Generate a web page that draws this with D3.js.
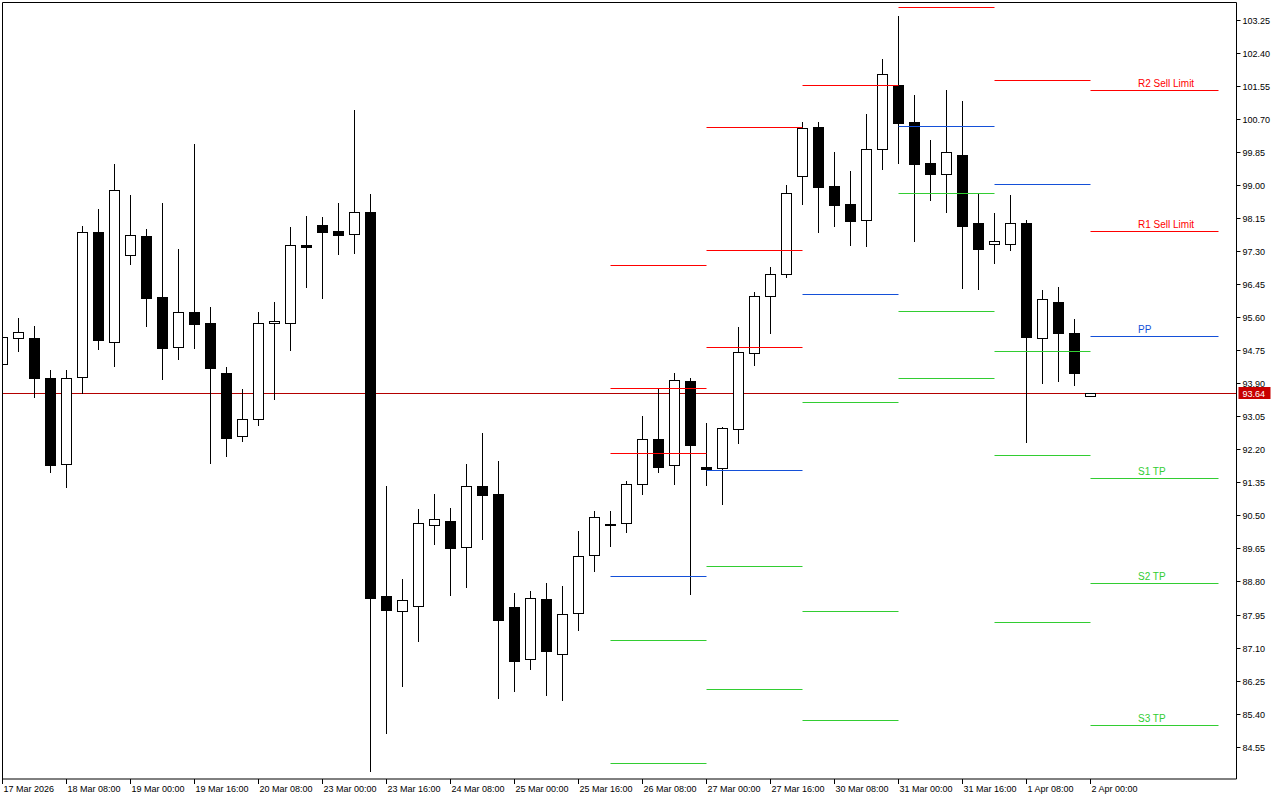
<!DOCTYPE html>
<html><head><meta charset="utf-8">
<script src="https://cdn.jsdelivr.net/npm/d3@7"></script>
<style>html,body{margin:0;padding:0;background:#fff;}svg{display:block;}</style>
</head><body>
<script>
// ---- Data (4H bars) ----
const opens  = [94.39,95.06,95.06,94.03,91.81,94.05,97.78,94.95,97.19,97.68,96.11,94.82,95.72,95.44,94.15,92.53,92.97,95.44,95.44,97.45,97.96,97.82,97.73,98.30,88.42,88.05,88.18,90.24,90.36,89.68,91.25,91.04,88.14,86.80,88.34,86.93,87.98,89.47,90.27,90.30,91.30,92.46,91.79,93.95,91.74,91.73,92.72,94.67,96.14,96.70,99.24,100.49,98.97,98.51,98.09,99.92,101.56,100.61,99.56,99.29,99.77,98.02,97.47,97.49,98.02,95.07,95.98,95.19,93.58];
const highs  = [95.12,95.57,95.36,94.23,94.23,97.94,98.38,99.54,98.73,97.87,98.53,97.34,100.05,95.85,94.32,93.75,95.73,95.99,97.92,98.20,98.18,98.54,100.93,98.77,91.26,88.86,90.66,91.05,90.69,91.82,92.62,91.90,88.50,88.56,88.76,88.68,90.10,90.61,90.61,91.38,93.06,93.75,94.16,94.03,92.88,92.78,95.35,96.25,96.89,99.00,100.62,100.62,99.85,99.36,100.83,102.24,103.35,101.31,100.16,101.44,101.16,98.77,98.28,98.74,98.10,96.30,96.38,95.55,93.64];
const lows   = [94.35,94.74,93.55,91.62,91.24,93.64,94.79,94.35,96.97,95.38,94.00,94.53,94.81,91.84,92.04,92.42,92.83,93.49,94.76,96.37,96.10,97.23,97.26,83.93,84.90,86.12,87.28,89.76,88.46,88.67,89.88,85.79,85.99,86.56,85.89,85.76,87.56,89.08,89.70,90.06,91.06,91.62,91.32,88.49,91.29,90.80,92.35,94.38,95.20,96.64,98.52,97.80,97.95,97.46,97.44,99.42,99.56,97.57,98.61,98.31,96.36,96.33,97.00,97.33,92.39,93.91,93.96,93.86,93.58];
const closes = [95.08,95.21,94.04,91.80,94.03,97.78,95.00,98.86,97.70,96.10,94.81,95.72,95.43,94.30,92.50,92.97,95.44,95.49,97.45,97.41,97.80,97.72,98.30,88.38,88.07,88.32,90.30,90.41,89.67,91.25,91.03,87.82,86.76,88.37,87.00,87.96,89.45,90.45,90.25,91.30,92.46,91.75,93.98,92.32,91.70,92.74,94.70,96.14,96.70,98.78,100.46,98.95,98.49,98.08,99.92,101.85,100.60,99.55,99.29,99.84,97.95,97.36,97.56,98.02,95.10,96.06,95.18,94.15,93.64];

const currentPrice = 93.64;

const timeLabels = ["17 Mar 2026","18 Mar 08:00","19 Mar 00:00","19 Mar 16:00","20 Mar 08:00","23 Mar 00:00","23 Mar 16:00","24 Mar 08:00","25 Mar 00:00","25 Mar 16:00","26 Mar 08:00","27 Mar 00:00","27 Mar 16:00","30 Mar 08:00","31 Mar 00:00","31 Mar 16:00","1 Apr 08:00","2 Apr 00:00"];
const timeLabelBars = [0,4,8,12,16,20,24,28,32,36,40,44,48,52,56,60,64,68];

const priceTicks = [103.25,102.40,101.55,100.70,99.85,99.00,98.15,97.30,96.45,95.60,94.75,93.90,93.05,92.20,91.35,90.50,89.65,88.80,87.95,87.10,86.25,85.40,84.55];

// daily pivot levels (segments by bar index)
const pivotDays  = ["26 Mar","27 Mar","30 Mar","31 Mar","1 Apr","2 Apr"];
const pivotStart = [38,44,50,56,62,68];
const pivotEnd   = [44,50,56,62,68,76];
const r3 = [96.93,100.48,null,null,null,null];
const r2 = [93.77,97.32,null,null,null,101.44];
const r1 = [92.10,94.83,101.56,103.57,101.69,97.82];
const pp = [88.93,91.66,96.19,100.51,99.02,95.11];
const s1 = [87.29,89.19,93.41,98.78,94.72,91.45];
const s2 = [84.12,86.03,88.03,95.75,92.05,88.75];
const s3 = [null,null,85.23,94.03,87.76,85.10];

const levelNames = ["R3","R2","R1","PP","S1","S2","S3"];
const levelSeries = [r3,r2,r1,pp,s1,s2,s3];
const lastLabels = {R2:"R2 Sell Limit", R1:"R1 Sell Limit", PP:"PP", S1:"S1 TP", S2:"S2 TP", S3:"S3 TP"};

(function(){
// ---- Layout ----
const W = 1280, H = 800;
const pL = 2.5, pT = 2.5, pR = 1236.5, pB = 779;
const RED = "#ff0000", BLUE = "#1450d8", GREEN = "#32cd32";
const colorOf = n => n[0] === "R" ? RED : (n === "PP" ? BLUE : GREEN);

const svg = d3.select("body").append("svg").attr("width", W).attr("height", H)
  .style("font-family", "'Liberation Sans', Arial, sans-serif");
svg.append("rect").attr("width", W).attr("height", H).attr("fill", "#fff");

const x = d3.scaleLinear().domain([0, 68]).range([2.5, 1090.5]);
const y = d3.scaleLinear().domain([84.55, 103.25]).range([746.7, 19.7]);

svg.append("clipPath").attr("id", "plot").append("rect")
  .attr("x", pL).attr("y", pT).attr("width", pR - pL).attr("height", pB - pT);

const plot = svg.append("g").attr("clip-path", "url(#plot)");

// current price line (behind candles)
const py = Math.round(y(currentPrice)) + 0.5;
plot.append("line").attr("x1", pL).attr("x2", pR).attr("y1", py).attr("y2", py)
  .attr("stroke", "#b40000").attr("stroke-width", 1);

// candles
const bars = d3.range(opens.length).map(i => ({i, o: opens[i], h: highs[i], l: lows[i], c: closes[i]}));
const cg = plot.append("g");
bars.forEach(b => {
  const cx = x(b.i);
  const yh = Math.round(y(b.h)), yl = Math.round(y(b.l));
  cg.append("line").attr("x1", cx).attr("x2", cx).attr("y1", yh).attr("y2", yl + 1)
    .attr("stroke", "#000").attr("stroke-width", 1);
  const t = Math.round(y(Math.max(b.o, b.c))), bt = Math.round(y(Math.min(b.o, b.c)));
  if (b.c >= b.o) {
    cg.append("rect").attr("x", cx - 5).attr("y", t + 0.5).attr("width", 10).attr("height", Math.max(bt - t, 1))
      .attr("fill", "#fff").attr("stroke", "#000").attr("stroke-width", 1);
  } else {
    cg.append("rect").attr("x", cx - 5.5).attr("y", t).attr("width", 11).attr("height", Math.max(bt - t + 1, 2))
      .attr("fill", "#000");
  }
});

// pivot lines
const pg = plot.append("g");
pivotDays.forEach((d, di) => {
  levelSeries.forEach((arr, li) => {
    const v = arr[di];
    if (v == null) return;
    const name = levelNames[li];
    const yy = Math.round(y(v)) + 0.5;
    pg.append("line").attr("x1", x(pivotStart[di])).attr("x2", x(pivotEnd[di]))
      .attr("y1", yy).attr("y2", yy).attr("stroke", colorOf(name)).attr("stroke-width", 1);
    if (di === pivotDays.length - 1 && lastLabels[name]) {
      pg.append("text").attr("x", 1138).attr("y", yy - 3.5).attr("font-size", 10)
        .attr("fill", colorOf(name)).text(lastLabels[name]);
    }
  });
});

// frame
svg.append("path").attr("d", `M${pL},${pB}V${pT}H${pR}V${pB}H${pL}`)
  .attr("fill", "none").attr("stroke", "#000").attr("stroke-width", 1);

// right price axis
const ya = svg.append("g");
priceTicks.forEach(p => {
  const yy = Math.round(y(p)) + 0.5;
  ya.append("line").attr("x1", pR).attr("x2", pR + 4).attr("y1", yy).attr("y2", yy).attr("stroke", "#000");
  ya.append("text").attr("x", pR + 6).attr("y", yy).attr("dy", "0.35em")
    .attr("font-size", 9).attr("fill", "#000").text(p.toFixed(2));
});
// current price label
ya.append("rect").attr("x", pR + 2).attr("y", py - 6.5).attr("width", 32).attr("height", 12).attr("fill", "#c80000");
ya.append("text").attr("x", pR + 6).attr("y", py).attr("dy", "0.35em")
  .attr("font-size", 9).attr("fill", "#fff").text(currentPrice.toFixed(2));

// bottom time axis
const xa = svg.append("g");
timeLabels.forEach((lab, i) => {
  const xx = x(timeLabelBars[i]);
  xa.append("line").attr("x1", xx).attr("x2", xx).attr("y1", pB).attr("y2", pB + 5).attr("stroke", "#000");
  xa.append("text").attr("x", xx + 1).attr("y", 792).attr("font-size", 9).attr("fill", "#000").text(lab);
});
})();
</script>
</body></html>
